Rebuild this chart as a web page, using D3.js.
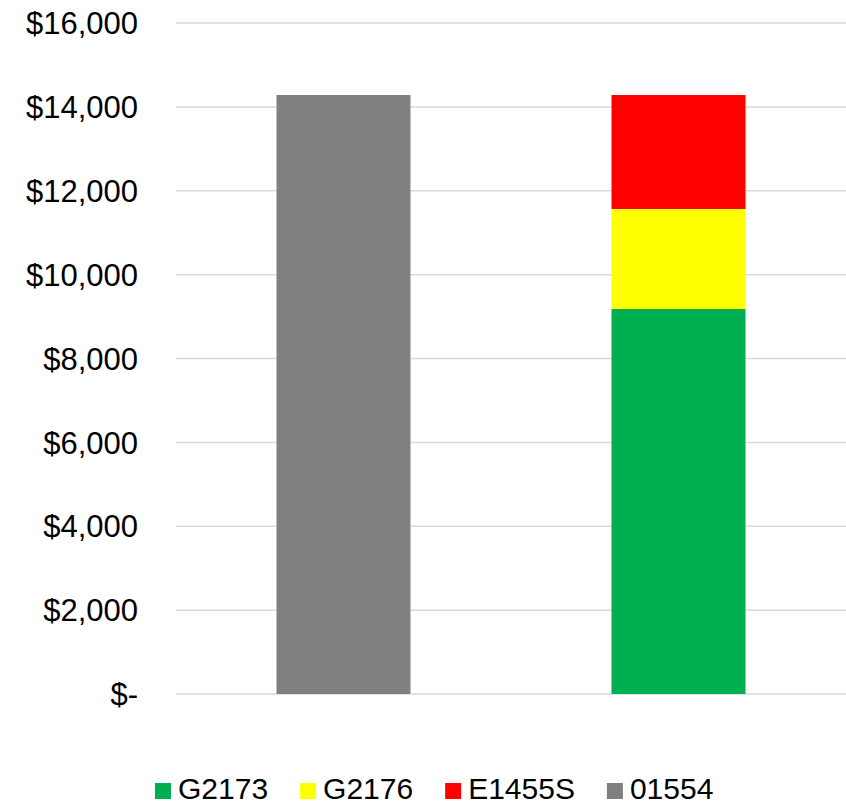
<!DOCTYPE html>
<html>
<head>
<meta charset="utf-8">
<script src="https://cdn.jsdelivr.net/npm/d3@7"></script>
<style>
  body { margin: 0; background: #fff; }
  text { font-family: "Liberation Sans", Arial, sans-serif; fill: #000; }
</style>
</head>
<body>
<div id="chart"></div>
<script>
const categories = ['A', 'B'];
const seriesNames = ['G2173', 'G2176', 'E1455S', '01554'];
const seriesColors = ['#00b050', '#ffff00', '#ff0000', '#808080'];
// values per series, one per category
const g2173 = [0, 9180];
const g2176 = [0, 2385];
const e1455s = [0, 2718];
const s01554 = [14283, 0];
const yTicks = [0, 2000, 4000, 6000, 8000, 10000, 12000, 14000, 16000];

const width = 846, height = 806;
const plotLeft = 176, plotRight = 846, plotTop = 23, plotBottom = 694;

const svg = d3.select('#chart').append('svg')
    .attr('width', width)
    .attr('height', height);

const x = d3.scaleBand()
    .domain(categories)
    .range([plotLeft, plotRight])
    .paddingInner(0.6)
    .paddingOuter(0.3);

const y = d3.scaleLinear()
    .domain([0, 16000])
    .range([plotBottom, plotTop]);

const fmt = v => v === 0 ? '$-' : '$' + d3.format(',')(v);

// gridlines
svg.append('g')
    .selectAll('line')
    .data(yTicks)
    .join('line')
    .attr('x1', plotLeft)
    .attr('x2', plotRight)
    .attr('y1', d => y(d))
    .attr('y2', d => y(d))
    .attr('stroke', '#d9d9d9')
    .attr('stroke-width', 1.5);

svg.append('g')
    .selectAll('text')
    .data(yTicks)
    .join('text')
    .attr('x', 138)
    .attr('y', d => y(d))
    .attr('dy', '0.36em')
    .attr('text-anchor', 'end')
    .style('font-size', '31px')
    .text(fmt);

// stacked bars
const rows = categories.map((c, i) => ({
    cat: c,
    G2173: g2173[i],
    G2176: g2176[i],
    E1455S: e1455s[i],
    '01554': s01554[i]
}));

const stack = d3.stack().keys(seriesNames)(rows);

svg.append('g')
    .selectAll('g')
    .data(stack)
    .join('g')
    .attr('fill', (d, i) => seriesColors[i])
    .selectAll('rect')
    .data(d => d.filter(p => p[1] - p[0] > 0))
    .join('rect')
    .attr('x', d => x(d.data.cat))
    .attr('width', x.bandwidth())
    .attr('y', d => y(d[1]))
    .attr('height', d => y(d[0]) - y(d[1]));

// legend
const legend = svg.append('g');
let lx = 155;
seriesNames.forEach((name, i) => {
    legend.append('rect')
        .attr('x', lx)
        .attr('y', 783)
        .attr('width', 16)
        .attr('height', 16)
        .attr('fill', seriesColors[i]);
    const t = legend.append('text')
        .attr('x', lx + 23)
        .attr('y', 799)
        .style('font-size', '30px')
        .text(name);
    lx += 23 + t.node().getComputedTextLength() + 32;
});
</script>
</body>
</html>
